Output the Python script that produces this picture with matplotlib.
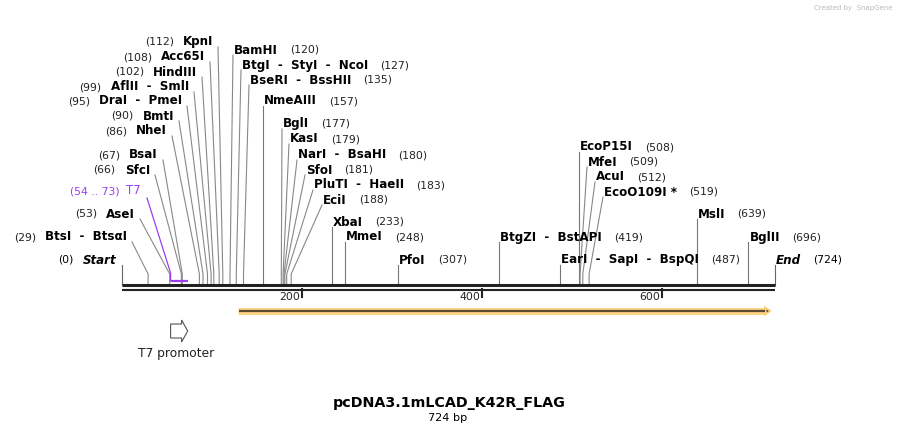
import matplotlib
matplotlib.use("Agg")
import matplotlib.pyplot as plt
from matplotlib.patches import Polygon

seq_len = 724
# left-side labels (number then name, line attaches at right)
left_names = ["BtsI  -  BtsαI", "AseI", "SfcI", "BsaI", "NheI", "BmtI", "DraI  -  PmeI",
              "AflII  -  SmlI", "HindIII", "Acc65I", "KpnI"]
left_pos = [29, 53, 66, 67, 86, 90, 95, 99, 102, 108, 112]
# right-side labels (name then number, line attaches at left)
right_names = ["BamHI", "BtgI  -  StyI  -  NcoI", "BseRI  -  BssHII", "NmeAIII", "BglI", "KasI",
               "NarI  -  BsaHI", "SfoI", "PluTI  -  HaeII", "EciI", "XbaI", "MmeI", "PfoI",
               "BtgZI  -  BstAPI", "EarI  -  SapI  -  BspQI", "EcoP15I", "MfeI", "AcuI",
               "EcoO109I *", "MslI", "BglII"]
right_pos = [120, 127, 135, 157, 177, 179, 180, 181, 183, 188, 233, 248, 307,
             419, 487, 508, 509, 512, 519, 639, 696]
tick_vals = [200, 400, 600]
feature_name = "T7"
feature_range = (54, 73)
orf_range = (129, 720)
title = "pcDNA3.1mLCAD_K42R_FLAG"

# layout (pixels); None x = vertical line at the site
left_lab_xy = [(132, 237), (140, 214), (155, 170), (163, 155), (172, 131), (179, 116),
               (187, 101), (194, 87), (202, 72), (210, 57), (218, 42)]
right_lab_xy = [(233, 50), (241, 65), (249, 80), (None, 101), (282, 124), (289, 139),
                (297, 155), (305, 170), (313, 185), (322, 200), (None, 222), (None, 237),
                (None, 260), (None, 237), (None, 260), (None, 147), (587, 162), (595, 177),
                (603, 192), (None, 214), (None, 237)]

X0, SC = 122, 0.9
def bx(bp):
    return X0 + bp * SC

fig = plt.figure(figsize=(8.98, 4.34), dpi=100)
ax = fig.add_axes([0, 0, 1, 1])
ax.set_xlim(0, 898)
ax.set_ylim(434, 0)
ax.axis("off")
renderer = fig.canvas.get_renderer()

NAME_FS, NUM_FS = 8.6, 7.8
BB = 285
LC = "#888888"

def txt_width(t):
    return t.get_window_extent(renderer=renderer).width

def connector(site_x, ex, ey, color=LC):
    if abs(site_x - ex) < 0.5:
        ax.plot([site_x, site_x], [BB, ey], color="#777", lw=0.8)
    else:
        ax.plot([site_x, site_x, ex], [BB, 274, ey], color=color, lw=0.8)

for name, pos, (lx, ly) in zip(left_names, left_pos, left_lab_xy):
    connector(bx(pos), lx, ly + 5)
    t = ax.text(lx - 5, ly, name, ha="right", va="center", fontsize=NAME_FS, fontweight="bold")
    w = txt_width(t)
    ax.text(lx - 5 - w - 9, ly, f"({pos})", ha="right", va="center", fontsize=NUM_FS, color="#222")

for name, pos, (lx, ly) in zip(right_names, right_pos, right_lab_xy):
    if lx is None:
        lx = bx(pos)
    connector(bx(pos), lx, ly + 5)
    t = ax.text(lx + 1, ly, name, ha="left", va="center", fontsize=NAME_FS, fontweight="bold")
    w = txt_width(t)
    ax.text(lx + 1 + w + 12, ly, f"({pos})", ha="left", va="center", fontsize=NUM_FS, color="#222")

# Start / End
ax.plot([bx(0), bx(0)], [BB, 265], color="#666", lw=0.8)
t = ax.text(bx(0) - 6, 260, "Start", ha="right", va="center", fontsize=NAME_FS,
            fontweight="bold", style="italic")
ax.text(bx(0) - 6 - txt_width(t) - 9, 260, "(0)", ha="right", va="center", fontsize=NUM_FS)
ex = bx(seq_len) + 1.5
ax.plot([ex, ex], [BB, 265], color="#666", lw=0.8)
t = ax.text(ex + 1, 260, "End", ha="left", va="center", fontsize=NAME_FS,
            fontweight="bold", style="italic")
ax.text(ex + 1 + txt_width(t) + 12, 260, f"({seq_len})", ha="left", va="center",
        fontsize=NUM_FS)

# T7 feature
PUR = "#9b3ff0"
fx0, fx1 = bx(feature_range[0]), bx(feature_range[1])
ax.plot([fx0, fx1], [281, 281], color=PUR, lw=1.6, solid_capstyle="butt")
ax.plot([fx0, fx0, 147], [281, 273, 198], color=PUR, lw=0.9)
t = ax.text(141, 191, feature_name, ha="right", va="center", fontsize=NUM_FS + 0.6, color=PUR)
ax.text(141 - txt_width(t) - 7, 191, f"({feature_range[0]} .. {feature_range[1]})",
        ha="right", va="center", fontsize=NUM_FS, color=PUR)

# backbone
ax.plot([bx(0), ex], [285, 285], color="#222", lw=2.2, solid_capstyle="butt")
ax.plot([bx(0), ex], [289.7, 289.7], color="#222", lw=1.5, solid_capstyle="butt")
for tv in tick_vals:
    ax.plot([bx(tv), bx(tv)], [289, 297], color="#222", lw=1.5)
    ax.text(bx(tv) - 2, 297.5, str(tv), ha="right", va="center", fontsize=7.8, color="#222")

# ORF arrow
ox0, ox1 = bx(orf_range[0]), bx(orf_range[1])
ax.plot([ox0, ox1 - 4], [311, 311], color="#fdd283", lw=5, solid_capstyle="butt")
ax.add_patch(Polygon([[ox1 - 6, 305.5], [ox1 + 2, 311], [ox1 - 6, 316.5]], closed=True,
                     fc="#fdd283", ec="none"))
ax.plot([ox0 + 1, ox1 - 5], [311, 311], color="#5b4a32", lw=1.6, solid_capstyle="butt")
ax.add_patch(Polygon([[ox1 - 6, 308], [ox1 - 1, 311], [ox1 - 6, 314]], closed=True,
                     fc="#5b4a32", ec="none"))

# T7 promoter arrow
ax.add_patch(Polygon([[fx0, 324], [fx0 + 11, 324], [fx0 + 11, 320], [fx1, 331],
                      [fx0 + 11, 342], [fx0 + 11, 338], [fx0, 338]], closed=True,
                     fc="white", ec="#555", lw=0.8))
ax.text(176, 353, "T7 promoter", ha="center", va="center", fontsize=8.8, color="#222")

ax.text(449, 403, title, ha="center", va="center", fontsize=10.3, fontweight="bold")
ax.text(448, 418, f"{seq_len} bp", ha="center", va="center", fontsize=8.1)
ax.text(893, 8, "Created by  SnapGene", ha="right", va="center", fontsize=5, color="#bbbbbb")

fig.savefig("out.png", dpi=100)
